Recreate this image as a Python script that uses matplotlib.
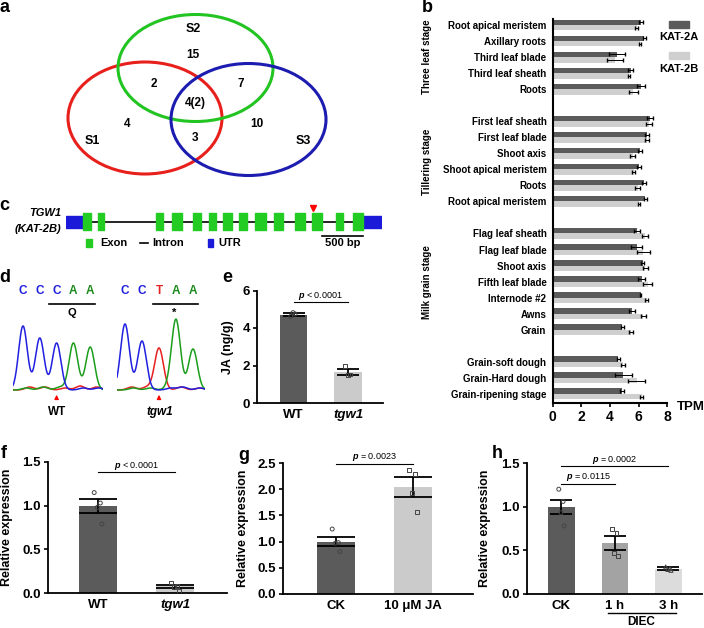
import numpy as np
import matplotlib
matplotlib.use('Agg')
import matplotlib.pyplot as plt
from matplotlib.patches import Ellipse, Rectangle

plt.rcParams['font.family'] = ['Liberation Sans', 'DejaVu Sans']
plt.rcParams['font.weight'] = 'bold'
plt.rcParams['axes.labelweight'] = 'bold'
plt.rcParams['mathtext.fontset'] = 'custom'
plt.rcParams['mathtext.it'] = 'Liberation Sans:italic'
plt.rcParams['mathtext.rm'] = 'Liberation Sans'

W, H = 704, 628

# ---------------- data ----------------
# a: Venn diagram counts
venn_names = ['S1', 'S2', 'S3']
venn_counts = {'100': '4', '010': '15', '001': '10', '110': '2',
               '011': '7', '101': '3', '111': '4(2)'}

# b: TPM of KAT-2A / KAT-2B
stage_names = ['Three leaf stage', 'Tillering stage', 'Milk grain stage', '']
stage_tissues = [
    ['Root apical meristem', 'Axillary roots', 'Third leaf blade', 'Third leaf sheath', 'Roots'],
    ['First leaf sheath', 'First leaf blade', 'Shoot axis', 'Shoot apical meristem', 'Roots',
     'Root apical meristem'],
    ['Flag leaf sheath', 'Flag leaf blade', 'Shoot axis', 'Fifth leaf blade', 'Internode #2', 'Awns', 'Grain'],
    ['Grain-soft dough', 'Grain-Hard dough', 'Grain-ripening stage'],
]
kat2a = [6.15, 6.4, 4.47, 5.44, 6.15,
         6.8, 6.56, 6.1, 6.02, 6.37, 6.47,
         5.86, 5.86, 6.28, 6.2, 6.14, 5.56, 4.86,
         4.58, 4.93, 4.84]
kat2b = [5.86, 6.1, 4.35, 5.33, 5.63,
         6.74, 6.56, 5.58, 5.67, 5.93, 6.02,
         6.44, 6.33, 6.47, 6.63, 6.56, 6.33, 5.47,
         4.93, 5.86, 6.2]
kat2a_err = [0.12, 0.1, 0.55, 0.15, 0.3,
             0.2, 0.15, 0.12, 0.15, 0.15, 0.1,
             0.2, 0.4, 0.12, 0.25, 0.05, 0.2, 0.1,
             0.1, 0.6, 0.12]
kat2b_err = [0.12, 0.05, 0.55, 0.1, 0.3,
             0.2, 0.15, 0.15, 0.1, 0.15, 0.05,
             0.2, 0.45, 0.2, 0.3, 0.1, 0.15, 0.15,
             0.15, 0.6, 0.1]

# c: TGW1 gene model (bp)
utr5 = (0, 207)
exons = [(207, 305), (390, 463), (1098, 1183), (1293, 1415), (1549, 1646), (1744, 1829),
         (1915, 2024), (2110, 2207), (2305, 2439), (2537, 2646), (2793, 2915), (3000, 3122),
         (3293, 3378), (3500, 3622)]
utr3 = (3622, 3854)
mutation_bp = 3012
scale_bp = 500

# d: chromatogram peaks (base position, height)
wt_bases = ['C', 'C', 'C', 'A', 'A']
tgw1_bases = ['C', 'C', 'T', 'A', 'A']
wt_peaks = {
    'red': [(0.4, 3), (1.3, 3), (2.5, 2), (3.4, 4), (4.4, 3)],
    'green': [(0.2, 2), (1.2, 3), (2.2, 3), (3, 47), (4, 43)],
    'blue': [(0, 64), (1, 52), (2, 47), (3.6, 2), (4.5, 2)],
}
tgw1_peaks = {
    'red': [(0.4, 3), (1.3, 3), (2, 42), (3.3, 3), (4.4, 2)],
    'green': [(0.5, 2), (1.5, 2), (2.6, 3), (3, 70), (4, 41)],
    'blue': [(0, 66), (1, 49), (2.7, 2), (3.4, 3), (4.4, 2)],
}

# e: JA content
e_groups = ['WT', 'tgw1']
e_mean = [4.72, 1.65]
e_sem = [0.09, 0.17]
e_points = [[4.62, 4.75, 4.82], [1.98, 1.52, 1.47]]

# f: relative expression WT vs tgw1
f_groups = ['WT', 'tgw1']
f_mean = [1.0, 0.075]
f_sem = [0.08, 0.02]
f_points = [[1.15, 1.03, 0.98, 0.79], [0.12, 0.08, 0.07, 0.02]]

# g: CK vs JA
g_groups = ['CK', '10 \u03bcM JA']
g_mean = [1.0, 2.04]
g_sem = [0.09, 0.19]
g_points = [[1.24, 0.98, 0.97, 0.81], [2.37, 2.29, 1.93, 1.56]]

# h: DIEC treatment
h_groups = ['CK', '1 h', '3 h']
h_mean = [1.0, 0.58, 0.29]
h_sem = [0.08, 0.08, 0.02]
h_points = [[1.2, 1.06, 0.93, 0.78], [0.74, 0.7, 0.47, 0.44], [0.31, 0.29, 0.28, 0.27]]

DARK = '#5b5b5b'
LIGHT = '#cbcbcb'

# ---------------- figure ----------------
fig = plt.figure(figsize=(W / 100, H / 100), dpi=100)

ov = fig.add_axes([0, 0, 1, 1])
ov.set_xlim(0, W)
ov.set_ylim(H, 0)
ov.axis('off')


def box_axes(x0, y0, x1, y1):
    ax = fig.add_axes([x0 / W, 1 - y1 / H, (x1 - x0) / W, (y1 - y0) / H])
    ax.set_facecolor('none')
    return ax


panel_letters = {'a': (4, 7), 'b': (427, 7), 'c': (4, 205), 'd': (5, 278), 'e': (227, 278),
                 'f': (4, 454), 'g': (244, 455), 'h': (497, 453)}
for letter, (x, y) in panel_letters.items():
    ov.text(x, y, letter, fontsize=13, fontweight='bold', ha='center', va='center')

# ---- a: Venn ----
venn_shapes = {'S1': ((145, 118), 154, 112, '#e8201c'),
               'S2': ((195.5, 68), 155, 107, '#22c422'),
               'S3': ((248.5, 119.5), 155, 112, '#1c1cb0')}
for name in venn_names:
    c, w, h, col = venn_shapes[name]
    ov.add_patch(Ellipse(c, w, h, fill=False, edgecolor=col, lw=2.2))
set_label_pos = {'S1': (92, 141), 'S2': (193, 29), 'S3': (303, 141)}
for name in venn_names:
    ov.text(*set_label_pos[name], name, fontsize=9, ha='center', va='center')
region_pos = {'100': (127, 124), '010': (193, 55), '001': (257, 124), '110': (154, 84),
              '011': (241, 84), '101': (195, 138), '111': (195, 103)}
for key, txt in venn_counts.items():
    ov.text(*region_pos[key], txt, fontsize=8.5, ha='center', va='center')

# ---- b: TPM horizontal bars ----
axb = box_axes(552.7, 19, 667.3, 403)
rows, labels, stage_rows = [], [], []
r = 0
for tissues in stage_tissues:
    start = r
    for t in tissues:
        rows.append(r)
        labels.append(t)
        r += 1
    stage_rows.append((start, r - 1))
    r += 1
rows = np.array(rows, dtype=float)
axb.barh(rows - 0.17, kat2a, height=0.34, color=DARK)
axb.barh(rows + 0.17, kat2b, height=0.34, color='#cfcfcf')
axb.errorbar(kat2a, rows - 0.17, xerr=kat2a_err, fmt='none', ecolor='black', elinewidth=0.7, capsize=1.5)
axb.errorbar(kat2b, rows + 0.17, xerr=kat2b_err, fmt='none', ecolor='black', elinewidth=0.7, capsize=1.5)
axb.set_xlim(0, 8)
axb.set_ylim(23.57, -0.374)
axb.set_xticks([0, 2, 4, 6, 8])
axb.set_yticks(rows)
axb.set_yticklabels(labels, fontsize=7)
axb.tick_params(axis='y', length=0, pad=4.5)
axb.tick_params(axis='x', length=3, width=1.2, labelsize=10, pad=2)
for s in ['top', 'right']:
    axb.spines[s].set_visible(False)
for s in ['left', 'bottom']:
    axb.spines[s].set_linewidth(1.5)
for name, (r0, r1) in zip(stage_names, stage_rows):
    if name:
        axb.text(-1.097, (r0 + r1) / 2, name, rotation=90, fontsize=7, ha='center', va='center',
                 transform=axb.get_yaxis_transform())
ov.text(691, 407, 'TPM', fontsize=9.5, ha='center', va='center')
ov.add_patch(Rectangle((669, 21), 20, 6.5, color=DARK))
ov.text(679, 37, 'KAT-2A', fontsize=8, ha='center', va='center')
ov.add_patch(Rectangle((669, 52), 20, 6.5, color='#cfcfcf'))
ov.text(679, 69, 'KAT-2B', fontsize=8, ha='center', va='center')

# ---- c: gene model ----
axc = box_axes(66, 206.5, 382, 236.5)
axc.set_xlim(utr5[0], utr3[1])
axc.set_ylim(-1, 1)
axc.axis('off')
axc.plot([utr5[0], utr3[1]], [0, 0], color='black', lw=1.2, zorder=1)
axc.broken_barh([(utr5[0], utr5[1] - utr5[0]), (utr3[0], utr3[1] - utr3[0])], (-0.4, 0.8),
                color='#1a1ad8', zorder=2)
axc.broken_barh([(a, b - a) for a, b in exons], (-0.57, 1.14), color='#22cc22', zorder=3)
axc.plot([mutation_bp], [0.9], marker='v', color='red', markersize=4.5, clip_on=False)
axc.plot([exons[-1][1] - scale_bp, exons[-1][1]], [-0.97, -0.97], color='black', lw=1.2, clip_on=False)
axc.text(exons[-1][1] - scale_bp / 2, -1.45, '%d bp' % scale_bp, fontsize=8, ha='center', va='center')
ov.text(61, 213, 'TGW1', fontsize=8, style='italic', ha='right', va='center')
ov.text(61, 229, '(KAT-2B)', fontsize=8, style='italic', ha='right', va='center')
ov.add_patch(Rectangle((86, 239), 6, 8, color='#22cc22'))
ov.text(100, 243, 'Exon', fontsize=8, ha='left', va='center')
ov.plot([140, 148], [243, 243], color='black', lw=1.2)
ov.text(152, 243, 'Intron', fontsize=8, ha='left', va='center')
ov.add_patch(Rectangle((208, 239), 5, 8, color='#1a1ad8'))
ov.text(218, 243, 'UTR', fontsize=8, ha='left', va='center')

# ---- d: chromatograms ----
trace_colors = {'red': '#e62020', 'green': '#1c9e1c', 'blue': '#2020e0'}
letter_colors = {'C': '#2020e0', 'A': '#1c8a1c', 'T': '#e62020'}


def chromatogram(box, base0, step, bases, peaks, codon, under, label, italic):
    x0, y0, x1, y1 = box
    ax = box_axes(*box)
    xlim = ((x0 - base0) / step, (x1 - base0) / step)
    grid = np.linspace(xlim[0], xlim[1], 400)
    for color in ['red', 'green', 'blue']:
        trace = np.zeros_like(grid)
        for pos, height in peaks[color]:
            trace += height * np.exp(-0.5 * ((grid - pos) / 0.26) ** 2)
        ax.plot(grid, trace, color=trace_colors[color], lw=1.1)
    ax.set_xlim(*xlim)
    ax.set_ylim(-1, y1 - y0 - 1)
    ax.axis('off')
    for i, b in enumerate(bases):
        ax.text(i, 99, b, color=letter_colors[b], fontsize=8.5, ha='center', va='center', clip_on=False)
    ax.plot(under, [86, 86], color='black', lw=1.2, clip_on=False)
    ax.text(2.9, 77, codon, fontsize=8, ha='center', va='center')
    ax.annotate('', xy=(2, -2), xytext=(2, -11), annotation_clip=False,
                arrowprops=dict(arrowstyle='-|>', color='red', lw=0.9, mutation_scale=6))
    ax.text(2.05, -22, label, fontsize=8.5, ha='center', va='center',
            style='italic' if italic else 'normal')


chromatogram((13, 315, 103, 391), 23, 16.8, wt_bases, wt_peaks, 'Q', [1.55, 4.29], 'WT', False)
chromatogram((117, 315, 205, 391), 125, 17, tgw1_bases, tgw1_peaks, '*', [1.65, 4.3], 'tgw1', True)

# ---- bar panels e-h ----
jitter = [-0.05, 0.03, -0.01, 0.05]


def bar_panel(box, names, means, sems, points, colors, markers, ymax, yticks, yfmt,
              ylabel, xlim, label_x, capsize, pvals, italic_idx=()):
    ax = box_axes(*box)
    x = np.arange(len(names))
    ax.bar(x, means, width=0.5, color=colors, zorder=2)
    ax.errorbar(x, means, yerr=sems, fmt='none', ecolor='black', elinewidth=1.3,
                capsize=capsize, capthick=1.3, zorder=3)
    for i, (pts, m) in enumerate(zip(points, markers)):
        ax.scatter(i + np.array(jitter[:len(pts)]), pts, marker=m, s=8, facecolors='none',
                   edgecolors='#444444', linewidths=0.7, zorder=4)
    ax.set_xlim(*xlim)
    ax.set_ylim(0, ymax)
    ax.set_yticks(yticks)
    ax.set_yticklabels([yfmt % v for v in yticks])
    ax.set_xticks(x)
    ax.set_xticklabels(names)
    for i in italic_idx:
        ax.get_xticklabels()[i].set_style('italic')
    ax.tick_params(axis='x', length=0, pad=4, labelsize=9.5)
    ax.tick_params(axis='y', length=3, width=1.2, pad=2, labelsize=9.5)
    for s in ['top', 'right']:
        ax.spines[s].set_visible(False)
    for s in ['left', 'bottom']:
        ax.spines[s].set_linewidth(1.3)
    ax.set_ylabel(ylabel, fontsize=9, fontweight='bold')
    ax.yaxis.set_label_coords(label_x, 0.5)
    for a, b, yl, yt, txt in pvals:
        ax.plot([a, b], [yl, yl], color='black', lw=0.8, clip_on=False)
        ax.text((a + b) / 2, yt, txt, fontsize=6.5, fontweight='normal', ha='center', va='center')
    return ax


bar_panel((257, 290.5, 383, 403), e_groups, e_mean, e_sem, e_points, [DARK, LIGHT], ['o', 's'],
          6, [0, 2, 4, 6], '%d', 'JA (ng/g)', (-0.67, 1.64), -0.18, 8,
          [(0, 1, 5.39, 5.72, '$p$ < 0.0001')], italic_idx=[1])

bar_panel((48, 462, 227, 593), f_groups, f_mean, f_sem, f_points, [DARK, LIGHT], ['o', 's'],
          1.5, [0.0, 0.5, 1.0, 1.5], '%.1f', 'Relative expression', (-0.65, 1.675), -0.196, 14,
          [(0, 1, 1.386, 1.455, '$p$ < 0.0001')], italic_idx=[1])

bar_panel((283, 463, 473, 594), g_groups, g_mean, g_sem, g_points, [DARK, LIGHT], ['o', 's'],
          2.5, [0.0, 0.5, 1.0, 1.5, 2.0, 2.5], '%.1f', 'Relative expression', (-0.69, 1.78), -0.179, 14,
          [(0, 1, 2.48, 2.61, '$p$ = 0.0023')])

axh = bar_panel((527, 463, 702, 594), h_groups, h_mean, h_sem, h_points, [DARK, '#a3a3a3', '#dcdcdc'],
                ['o', 's', '^'], 1.5, [0.0, 0.5, 1.0, 1.5], '%.1f', 'Relative expression',
                (-0.645, 2.63), -0.206, 8,
                [(0, 2, 1.46, 1.54, '$p$ = 0.0002'), (0, 1, 1.264, 1.345, '$p$ = 0.0115')])
trans = axh.get_xaxis_transform()
axh.plot([0.87, 2.14], [-0.145, -0.145], color='black', lw=1.0, transform=trans, clip_on=False)
axh.text(1.5, -0.215, 'DIEC', fontsize=8.5, ha='center', va='center', transform=trans)

fig.savefig('out.png', dpi=100)
